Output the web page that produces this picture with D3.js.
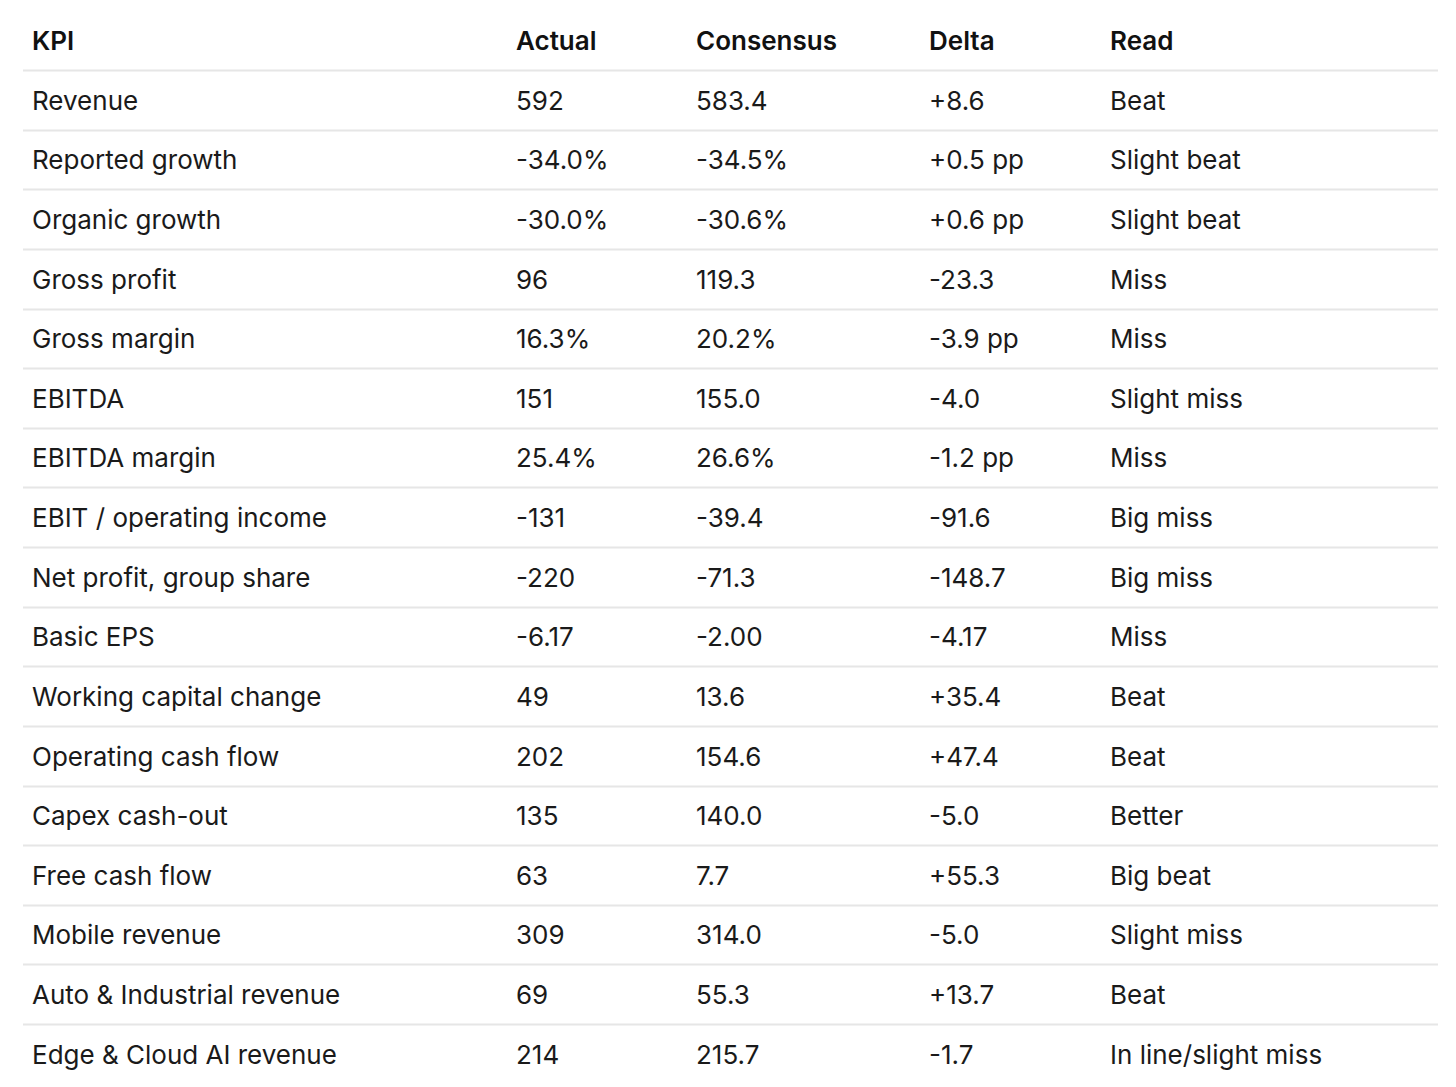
<!DOCTYPE html>
<html>
<head>
<meta charset="utf-8">
<script src="https://cdn.jsdelivr.net/npm/d3@7"></script>
<style>
  html, body { margin: 0; padding: 0; background: #fff; }
  svg { display: block; }
</style>
</head>
<body>
<div id="chart"></div>
<script>
// table content
const headers = ["KPI", "Actual", "Consensus", "Delta", "Read"];
const kpis = ["Revenue", "Reported growth", "Organic growth", "Gross profit", "Gross margin",
  "EBITDA", "EBITDA margin", "EBIT / operating income", "Net profit, group share", "Basic EPS",
  "Working capital change", "Operating cash flow", "Capex cash-out", "Free cash flow",
  "Mobile revenue", "Auto & Industrial revenue", "Edge & Cloud AI revenue"];
const actual = ["592", "-34.0%", "-30.0%", "96", "16.3%", "151", "25.4%", "-131", "-220", "-6.17",
  "49", "202", "135", "63", "309", "69", "214"];
const consensus = ["583.4", "-34.5%", "-30.6%", "119.3", "20.2%", "155.0", "26.6%", "-39.4", "-71.3",
  "-2.00", "13.6", "154.6", "140.0", "7.7", "314.0", "55.3", "215.7"];
const delta = ["+8.6", "+0.5 pp", "+0.6 pp", "-23.3", "-3.9 pp", "-4.0", "-1.2 pp", "-91.6", "-148.7",
  "-4.17", "+35.4", "+47.4", "-5.0", "+55.3", "-5.0", "+13.7", "-1.7"];
const read = ["Beat", "Slight beat", "Slight beat", "Miss", "Miss", "Slight miss", "Miss", "Big miss",
  "Big miss", "Miss", "Beat", "Beat", "Better", "Big beat", "Slight miss", "Beat", "In line/slight miss"];

const width = 1456, height = 1087;
const rows = kpis.map((k, i) => [k, actual[i], consensus[i], delta[i], read[i]]);

const svg = d3.select("#chart").append("svg")
  .attr("width", width)
  .attr("height", height)
  .style("font-family", "Inter, 'Noto Sans', sans-serif");

// row index -> text centre (header is row 0)
const y = d3.scaleLinear().domain([0, 1]).range([41, 100.625]);
const x = d3.scaleOrdinal().domain(headers).range([32, 516, 696, 929, 1110]);
const lineColor = "#e6e6e6";

// separators under header and each row except last
svg.append("g")
  .selectAll("line")
  .data(d3.range(rows.length))
  .join("line")
  .attr("x1", 23).attr("x2", 1438)
  .attr("y1", d => Math.round(y(d + 0.5) - 0.8) + 0.5)
  .attr("y2", d => Math.round(y(d + 0.5) - 0.8) + 0.5)
  .attr("stroke", lineColor)
  .attr("stroke-width", 2);

svg.append("g")
  .selectAll("text")
  .data(headers)
  .join("text")
  .attr("x", d => x(d))
  .attr("y", y(0))
  .attr("dy", "0.35em")
  .attr("font-size", 26)
  .attr("font-weight", 600)
  .attr("fill", "#111")
  .text(d => d);

const rowG = svg.append("g")
  .selectAll("g")
  .data(rows)
  .join("g")
  .attr("transform", (d, i) => `translate(0,${y(i + 1)})`);

rowG.selectAll("text")
  .data(d => d.map((v, j) => ({ v, col: headers[j] })))
  .join("text")
  .attr("x", d => x(d.col))
  .attr("dy", "0.35em")
  .attr("font-size", 26)
  .attr("fill", "#1a1a1a")
  .text(d => d.v);
</script>
</body>
</html>
